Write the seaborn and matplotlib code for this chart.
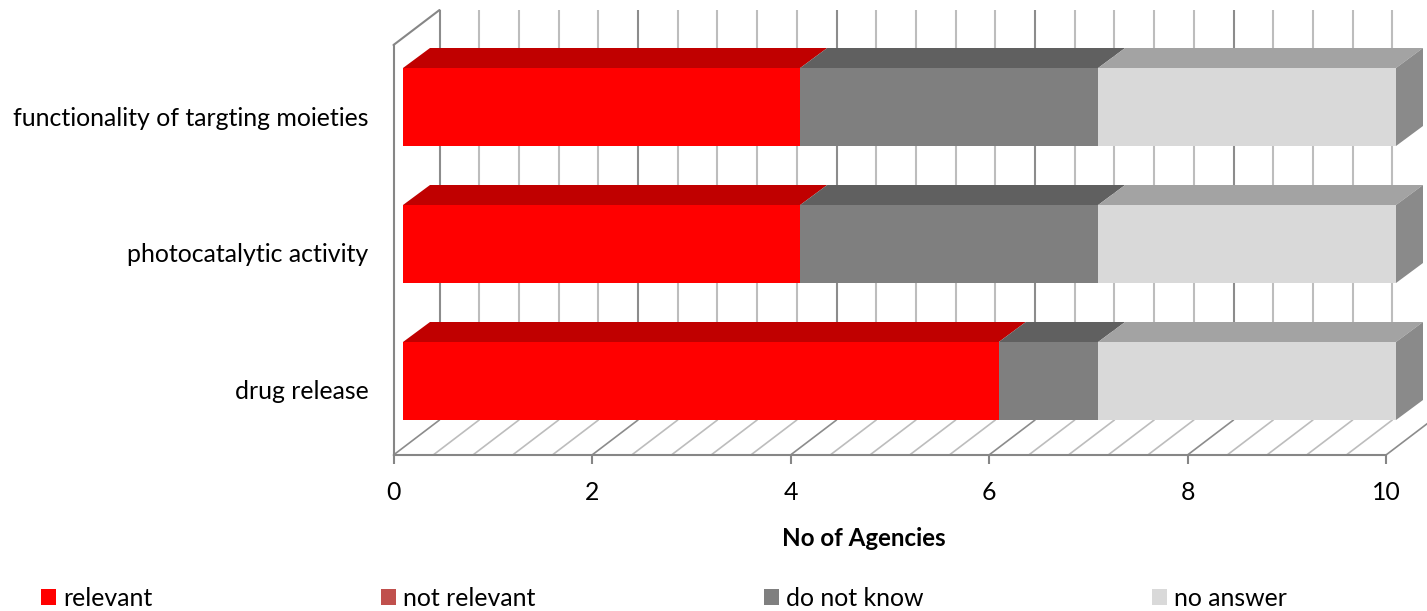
import numpy as np
import pandas as pd
import matplotlib
matplotlib.use("Agg")
import matplotlib.pyplot as plt
from matplotlib.patches import Patch, Polygon
from matplotlib.transforms import ScaledTranslation
import seaborn as sns

categories = ["functionality of targting moieties", "photocatalytic activity", "drug release"]
series_names = ["relevant", "not relevant", "do not know", "no answer"]
relevant = [4, 4, 6]
not_relevant = [0, 0, 0]
do_not_know = [3, 3, 1]
no_answer = [3, 3, 3]
x_ticks = [0, 2, 4, 6, 8, 10]

front_colors = ["#FF0000", "#C0504D", "#7F7F7F", "#D9D9D9"]
top_colors = ["#C00000", "#903C39", "#606060", "#A3A3A3"]
side_color = "#8A8A8A"
axis_color = "#868686"
grid_major = "#8C8C8C"
grid_minor = "#BDBDBD"

sns.set_theme(style="white")
plt.rcParams["font.family"] = ["Lato", "DejaVu Sans"]
W, H = 1427, 611
TEXT_SIZE = 17.9

fig = plt.figure(figsize=(W / 100, H / 100), dpi=100)


def pixel_axes(x0, x1, y_top, y_bottom, **kw):
    return fig.add_axes([x0 / W, 1 - y_bottom / H, (x1 - x0) / W, (y_bottom - y_top) / H], **kw)


# Chart box: the floor edge carries the value axis, the wall edge the categories
ax = pixel_axes(393.5, 1386, 45, 455)
ax.set_xlim(0, 10)
ax.set_ylim(2.5, -0.5)
ax.set_yticks(range(len(categories)), categories)
ax.set_xticks(x_ticks)
ax.tick_params(axis="y", length=0, pad=18, labelsize=TEXT_SIZE, labelcolor="black")
ax.tick_params(axis="x", length=6.5, width=1.5, color=axis_color, pad=12.5,
               labelsize=TEXT_SIZE, labelcolor="black", bottom=True)
ax.set_xlabel("No of Agencies", fontsize=TEXT_SIZE * 0.97, fontweight="bold", labelpad=16,
              color="black", x=0.474)
for name, spine in ax.spines.items():
    spine.set_visible(name in ("left", "bottom"))
    spine.set_color(axis_color)
    spine.set_linewidth(1.5)

# Category labels sit a little below the centre of their band
label_shift = ScaledTranslation(0, -3 / 100, fig.dpi_scale_trans)
for label in ax.get_yticklabels():
    label.set_transform(label.get_transform() + label_shift)

# Oblique wall and floor gridlines of the pseudo-3D box
depth_x = 46 / 99.25
depth_y = 35 / 410
trans = ax.get_xaxis_transform()
for k, g in enumerate(np.arange(0, 10.01, 0.4)):
    major = k % 5 == 0
    color = grid_major if major else grid_minor
    ax.plot([g + depth_x] * 2, [depth_y, 1 + depth_y], transform=trans, color=color,
            lw=1.5, clip_on=False, zorder=1, solid_capstyle="butt")
    ax.plot([g, g + depth_x], [0, depth_y], transform=trans, color=color,
            lw=1.2, clip_on=False, zorder=1)
ax.plot([0, depth_x], [1, 1 + depth_y], transform=trans, color=axis_color, lw=1.5,
        clip_on=False, zorder=2)

# Stacked bars sit on a plane shifted slightly into the box
bar_ax = pixel_axes(403, 1396, 38.5, 449.5)
stack = np.array([relevant, not_relevant, do_not_know, no_answer], dtype=float)
ends = stack.cumsum(axis=0)
starts = ends - stack
frame = pd.DataFrame({
    "category": np.tile(categories, len(series_names)),
    "series": np.repeat(series_names, len(categories)),
    "end": ends.ravel(),
})
bar_height = 78 / 137
sns.barplot(data=frame, y="category", x="end", hue="series", hue_order=series_names[::-1],
            palette=dict(zip(series_names, front_colors)), dodge=False, width=bar_height,
            saturation=1, legend=False, ax=bar_ax, order=categories, linewidth=0, zorder=3)
bar_ax.set_xlim(0, 10)
bar_ax.set_ylim(2.5, -0.5)
bar_ax.axis("off")

# Upper and end faces of each bar
face_dx = 27 / 99.3
face_dy = 20 / 137
for s, top_color in enumerate(top_colors):
    for c in range(len(categories)):
        if stack[s, c] == 0:
            continue
        y_top = c - bar_height / 2
        x0, x1 = starts[s, c], ends[s, c]
        bar_ax.add_patch(Polygon(
            [(x0, y_top), (x1, y_top), (x1 + face_dx, y_top - face_dy), (x0 + face_dx, y_top - face_dy)],
            closed=True, facecolor=top_color, edgecolor="none", clip_on=False, zorder=4))
for c in range(len(categories)):
    y_top, y_bot = c - bar_height / 2, c + bar_height / 2
    x1 = ends[-1, c]
    bar_ax.add_patch(Polygon(
        [(x1, y_top), (x1 + face_dx, y_top - face_dy), (x1 + face_dx, y_bot - face_dy), (x1, y_bot)],
        closed=True, facecolor=side_color, edgecolor="none", clip_on=False, zorder=4))

handles = [Patch(facecolor=col, edgecolor="none", label=name)
           for name, col in zip(series_names, front_colors)]
fig.legend(handles=handles, ncol=4, loc="lower left", bbox_to_anchor=(41 / W, 1 / H), borderaxespad=0,
           borderpad=0, frameon=False, fontsize=TEXT_SIZE, handlelength=0.6, handleheight=0.6,
           handletextpad=0.28, columnspacing=9.2, labelcolor="black")

fig.savefig("out.png", dpi=100, facecolor="white")
